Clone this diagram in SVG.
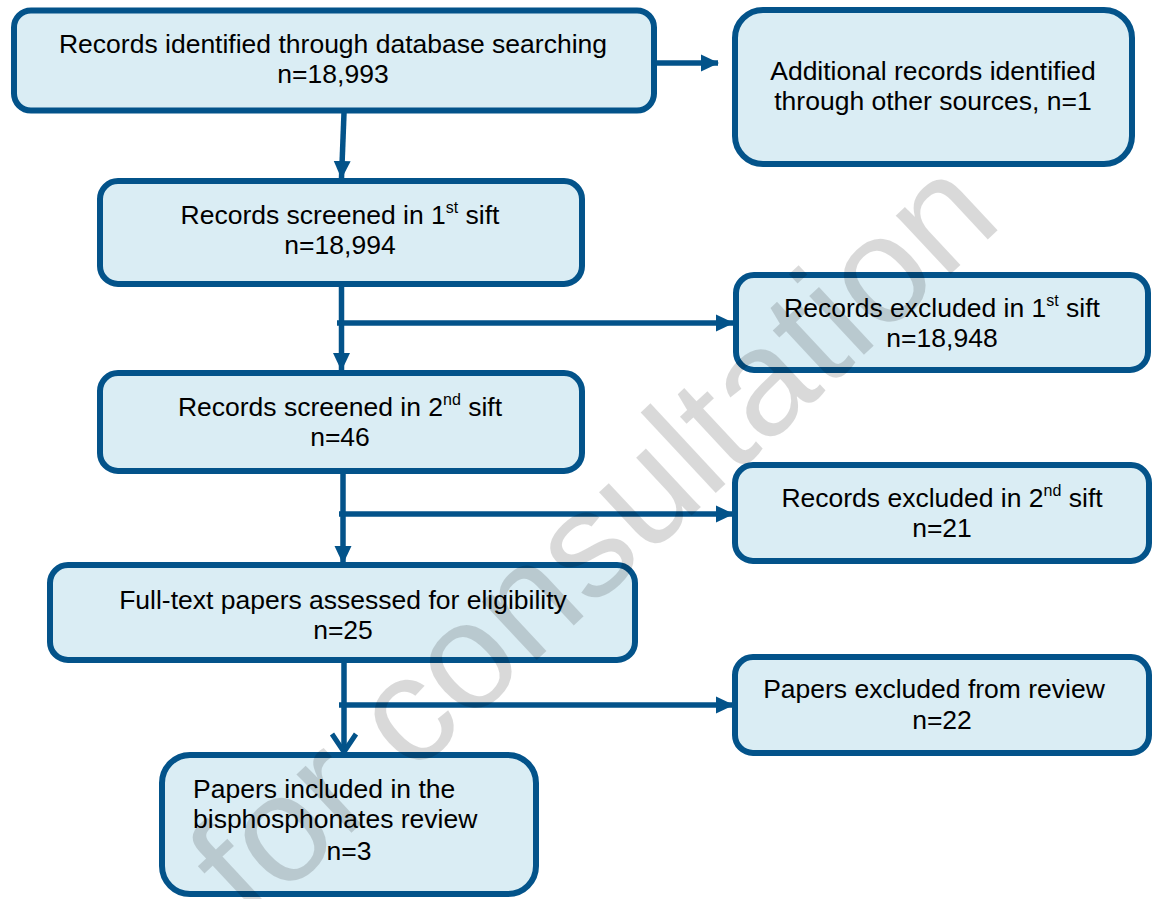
<svg xmlns="http://www.w3.org/2000/svg" width="1157" height="899" viewBox="0 0 1157 899">
<style>
.box{fill:#DAEDF4;stroke:#03538A;stroke-width:6}
.t{font-family:"Liberation Sans",Arial,sans-serif;font-size:26.5px;fill:#000;text-anchor:middle}
.l{text-anchor:start}
.c{fill:none;stroke:#03538A;stroke-width:5.5}
.wm{font-family:"Liberation Sans",Arial,sans-serif;font-size:152px;fill:#000;fill-opacity:0.15;text-anchor:middle}
</style>
<defs>
<marker id="ah" markerUnits="userSpaceOnUse" markerWidth="18" markerHeight="18" viewBox="0 0 18 18" refX="17" refY="9" orient="auto">
<path d="M0,0.5 L18,9 L0,17.5 Z" fill="#03538A"/>
</marker>
<marker id="av" markerUnits="userSpaceOnUse" markerWidth="30" markerHeight="30" viewBox="0 0 30 30" refX="22" refY="15" orient="auto">
<path d="M4,3 L22,15 L4,27" fill="none" stroke="#03538A" stroke-width="5"/>
</marker>
</defs>
<rect width="1157" height="899" fill="#fff"/>
<g id="connectors">
<line class="c" x1="344" y1="113" x2="341.5" y2="178" marker-end="url(#ah)"/>
<line class="c" x1="655" y1="63" x2="718" y2="63" marker-end="url(#ah)"/>
<line class="c" x1="341.5" y1="286" x2="341.5" y2="370" marker-end="url(#ah)"/>
<line class="c" x1="337" y1="323" x2="733" y2="323" marker-end="url(#ah)"/>
<line class="c" x1="343" y1="474" x2="343" y2="563" marker-end="url(#ah)"/>
<line class="c" x1="339" y1="514" x2="733" y2="514" marker-end="url(#ah)"/>
<line class="c" x1="344" y1="663" x2="344" y2="752" marker-end="url(#av)"/>
<line class="c" x1="339" y1="705" x2="733" y2="705" marker-end="url(#ah)"/>
</g>
<g id="n1">
<rect class="box" x="14" y="10.5" width="640" height="100" rx="17"/>
<text class="t" x="333" y="53">Records identified through database searching</text>
<text class="t" x="333" y="83">n=18,993</text>
</g>
<g id="n2">
<rect class="box" x="735" y="10" width="397" height="154" rx="28"/>
<text class="t" x="933" y="80">Additional records identified</text>
<text class="t" x="933" y="110">through other sources, n=1</text>
</g>
<g id="n3">
<rect class="box" x="100" y="181" width="482" height="103" rx="18"/>
<text class="t" x="340" y="224">Records screened in 1<tspan font-size="16" dy="-11">st</tspan><tspan dy="11"> sift</tspan></text>
<text class="t" x="340" y="254">n=18,994</text>
</g>
<g id="n4">
<rect class="box" x="736" y="275" width="412" height="95" rx="18"/>
<text class="t" x="942" y="317">Records excluded in 1<tspan font-size="16" dy="-11">st</tspan><tspan dy="11"> sift</tspan></text>
<text class="t" x="942" y="347">n=18,948</text>
</g>
<g id="n5">
<rect class="box" x="100" y="373" width="482" height="98" rx="18"/>
<text class="t" x="340" y="416">Records screened in 2<tspan font-size="16" dy="-11">nd</tspan><tspan dy="11"> sift</tspan></text>
<text class="t" x="340" y="446">n=46</text>
</g>
<g id="n6">
<rect class="box" x="735" y="465" width="414" height="96" rx="18"/>
<text class="t" x="942" y="507">Records excluded in 2<tspan font-size="16" dy="-11">nd</tspan><tspan dy="11"> sift</tspan></text>
<text class="t" x="942" y="537">n=21</text>
</g>
<g id="n7">
<rect class="box" x="50" y="565" width="585" height="95" rx="18"/>
<text class="t" x="343" y="609">Full-text papers assessed for eligibility</text>
<text class="t" x="343" y="639">n=25</text>
</g>
<g id="n8">
<rect class="box" x="735" y="657" width="414" height="96" rx="18"/>
<text class="t" x="934" y="698">Papers excluded from review</text>
<text class="t" x="942" y="729">n=22</text>
</g>
<g id="n9">
<rect class="box" x="162" y="755" width="374" height="139" rx="28"/>
<text class="t l" x="193" y="798">Papers included in the</text>
<text class="t l" x="193" y="828">bisphosphonates review</text>
<text class="t" x="349" y="860">n=3</text>
</g>
<text class="wm" x="628" y="575" transform="rotate(-43 628 575)">for consultation</text>
</svg>
